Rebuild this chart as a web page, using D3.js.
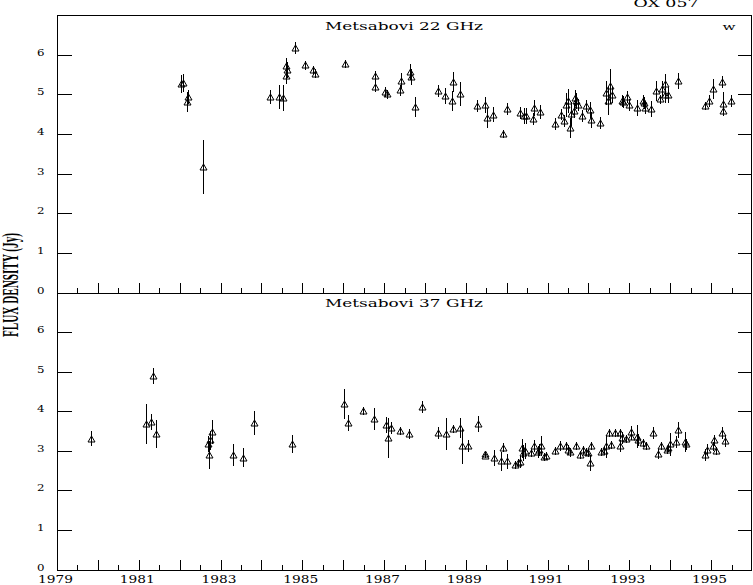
<!DOCTYPE html>
<html><head><meta charset="utf-8">
<script src="https://cdn.jsdelivr.net/npm/d3@7"></script>
<style>
html,body{margin:0;padding:0;background:#fff;}
svg{display:block;}
text{fill:#000;}
</style></head>
<body>
<svg id="chart" width="753" height="585"></svg>
<script>
// ---------- data ----------
const years22 = [1982.03,1982.08,1982.21,1982.18,1982.56,1984.20,1984.43,1984.53,1984.60,1984.62,1984.60,1984.81,1985.07,1985.25,1985.30,1986.05,1986.79,1986.77,1987.03,1987.08,1987.38,1987.42,1987.63,1987.67,1987.76,1988.33,1988.50,1988.69,1988.65,1988.86,1989.28,1989.48,1989.51,1989.66,1989.92,1990.00,1990.32,1990.42,1990.46,1990.66,1990.65,1990.82,1991.19,1991.32,1991.39,1991.44,1991.51,1991.56,1991.57,1991.64,1991.67,1991.70,1991.75,1991.83,1991.93,1992.04,1992.07,1992.29,1992.43,1992.47,1992.52,1992.58,1992.81,1992.84,1992.95,1992.99,1993.18,1993.33,1993.36,1993.39,1993.52,1993.66,1993.74,1993.80,1993.86,1993.86,1993.95,1994.19,1994.84,1994.96,1995.05,1995.26,1995.29,1995.30,1995.48];
const flux22  = [5.25,5.28,4.93,4.80,3.16,4.93,4.94,4.91,5.72,5.62,5.45,6.17,5.73,5.61,5.52,5.77,5.45,5.18,5.06,5.00,5.10,5.33,5.57,5.44,4.67,5.09,4.95,5.31,4.83,5.01,4.70,4.74,4.41,4.49,4.00,4.63,4.52,4.45,4.45,4.66,4.38,4.55,4.24,4.49,4.32,4.72,4.83,4.15,4.51,4.59,4.91,4.83,4.74,4.46,4.70,4.60,4.36,4.28,5.04,4.83,5.20,4.98,4.83,4.80,4.94,4.72,4.66,4.84,4.78,4.66,4.63,5.09,4.87,5.14,5.25,4.99,4.98,5.33,4.70,4.84,5.14,5.31,4.76,4.57,4.84];
const err22   = [0.23,0.22,0.18,0.25,0.68,0.18,0.30,0.32,0.20,0.20,0.20,0.16,0.12,0.10,0.12,0.10,0.15,0.12,0.12,0.12,0.14,0.20,0.20,0.20,0.25,0.15,0.20,0.25,0.25,0.30,0.15,0.20,0.25,0.20,0.10,0.15,0.15,0.20,0.20,0.20,0.15,0.18,0.15,0.15,0.15,0.30,0.30,0.25,0.30,0.20,0.20,0.20,0.15,0.15,0.15,0.20,0.20,0.15,0.30,0.35,0.45,0.20,0.15,0.15,0.15,0.15,0.20,0.15,0.15,0.15,0.20,0.25,0.12,0.20,0.25,0.20,0.20,0.20,0.10,0.15,0.25,0.15,0.30,0.10,0.15];

const years37 = [1979.82,1981.17,1981.31,1981.36,1981.42,1982.69,1982.71,1982.74,1982.79,1983.31,1983.56,1983.82,1984.76,1986.03,1986.11,1986.48,1986.76,1987.04,1987.09,1987.17,1987.39,1987.62,1987.94,1988.32,1988.52,1988.69,1988.85,1988.91,1989.06,1989.30,1989.48,1989.48,1989.69,1989.86,1989.92,1990.00,1990.20,1990.27,1990.33,1990.38,1990.41,1990.45,1990.59,1990.66,1990.77,1990.80,1990.85,1990.91,1990.96,1991.19,1991.31,1991.46,1991.51,1991.56,1991.70,1991.80,1991.86,1991.94,1992.00,1992.04,1992.07,1992.31,1992.37,1992.43,1992.49,1992.56,1992.66,1992.78,1992.78,1992.83,1992.93,1993.03,1993.03,1993.19,1993.22,1993.33,1993.41,1993.59,1993.70,1993.77,1993.91,1993.95,1994.00,1994.13,1994.19,1994.35,1994.39,1994.86,1994.89,1995.04,1995.08,1995.12,1995.26,1995.33];
const flux37  = [3.31,3.67,3.72,4.89,3.43,3.17,2.90,3.26,3.48,2.90,2.83,3.71,3.17,4.18,3.71,4.00,3.80,3.66,3.32,3.57,3.50,3.42,4.10,3.46,3.43,3.54,3.57,3.12,3.12,3.67,2.92,2.86,2.81,2.73,3.08,2.73,2.64,2.69,2.72,3.06,2.94,3.00,2.94,3.12,2.98,3.02,3.12,2.85,2.87,3.00,3.12,3.11,3.02,2.96,3.11,2.90,3.02,2.98,2.94,2.70,3.11,2.98,3.00,3.11,3.46,3.15,3.46,3.44,3.12,3.33,3.29,3.36,3.47,3.36,3.27,3.19,3.11,3.46,2.92,3.12,3.02,3.08,3.16,3.23,3.53,3.23,3.16,2.90,3.03,3.11,3.26,2.99,3.44,3.25];
const err37   = [0.20,0.50,0.20,0.20,0.35,0.20,0.35,0.25,0.30,0.28,0.25,0.30,0.22,0.38,0.20,0.10,0.27,0.20,0.50,0.15,0.10,0.12,0.15,0.15,0.40,0.10,0.25,0.45,0.15,0.20,0.05,0.05,0.20,0.25,0.12,0.20,0.10,0.10,0.15,0.25,0.20,0.20,0.10,0.15,0.15,0.15,0.25,0.10,0.10,0.10,0.12,0.10,0.12,0.12,0.10,0.10,0.10,0.10,0.10,0.20,0.10,0.10,0.10,0.30,0.10,0.10,0.10,0.12,0.15,0.15,0.10,0.10,0.15,0.30,0.15,0.10,0.10,0.15,0.12,0.10,0.10,0.10,0.30,0.15,0.20,0.25,0.15,0.15,0.15,0.12,0.15,0.10,0.15,0.15];

const yTickValues = [0,1,2,3,4,5,6];
const xLabelYears = [1979,1981,1983,1985,1987,1989,1991,1993,1995];
const panelTitles = ["Metsabovi 22 GHz","Metsabovi 37 GHz"];
const sourceName = "OX 057";
const cornerMark = "w";
const yAxisTitle = "FLUX DENSITY (Jy)";

// ---------- layout ----------
const svg = d3.select("#chart");
const L = 57, R = 752, T = 15, MID = 292.5, B = 569.5;
const x = d3.scaleLinear().domain([1979,1996]).range([L, R]);
const yTop = d3.scaleLinear().domain([0,7]).range([MID, T]);
const yBot = d3.scaleLinear().domain([0,7]).range([B, MID]);
const font = "'DejaVu Serif', serif";

// frame
const frame = svg.append("g").attr("fill","none").attr("stroke","#000").attr("stroke-width",1).attr("shape-rendering","crispEdges");
frame.append("rect").attr("x",L+0.5).attr("y",T+0.5).attr("width",R-L-1).attr("height",B-T);
frame.append("line").attr("x1",L).attr("x2",R).attr("y1",Math.round(MID)+0.5).attr("y2",Math.round(MID)+0.5);

// x ticks (every year major, every half year minor), pointing upward
const majorYears = d3.range(1980,1996,1);
const minorYears = d3.range(1979.5,1996,1);
[yTop, yBot].forEach((ys,i)=>{
  const base = i===0 ? Math.round(MID) : Math.round(B);
  const gMaj = svg.append("g").attr("transform",`translate(0,${base+0.5})`)
    .call(d3.axisBottom(x).tickValues(majorYears).tickSize(-11).tickFormat(""));
  const gMin = svg.append("g").attr("transform",`translate(0,${base+0.5})`)
    .call(d3.axisBottom(x).tickValues(minorYears).tickSize(-6).tickFormat(""));
  [gMaj,gMin].forEach(g=>{
    g.select(".domain").remove();
    g.selectAll("line").attr("stroke","#000").attr("shape-rendering","crispEdges");
  });
});

// x labels under bottom panel
const gxl = svg.append("g").attr("transform",`translate(-2,${B+0.5})`)
  .call(d3.axisBottom(x).tickValues(xLabelYears).tickSize(0).tickPadding(12.5).tickFormat(d3.format("d")));
gxl.select(".domain").remove();
gxl.selectAll("text").attr("font-family",font).attr("font-size",10.5)
  .attr("textLength",35).attr("lengthAdjust","spacingAndGlyphs").attr("dy",0);

// y axes left (labels) and right (ticks)
[yTop, yBot].forEach(ys=>{
  const gl = svg.append("g").attr("transform",`translate(${L+0.5},0)`)
    .call(d3.axisLeft(ys).tickValues(yTickValues).tickSize(-14).tickPadding(13).tickFormat(d3.format("d")));
  gl.select(".domain").remove();
  gl.selectAll("line").attr("stroke","#000").attr("shape-rendering","crispEdges");
  gl.selectAll("text").attr("font-family",font).attr("font-size",10)
    .attr("textLength",7.5).attr("lengthAdjust","spacingAndGlyphs").attr("dy","0.05em");
  const gr = svg.append("g").attr("transform",`translate(${R-0.5},0)`)
    .call(d3.axisRight(ys).tickValues(yTickValues.filter(v=>v>0)).tickSize(-14).tickFormat(""));
  gr.select(".domain").remove();
  gr.selectAll("line").attr("stroke","#000").attr("shape-rendering","crispEdges");
});

// data marks
function drawSeries(years, flux, err, ys){
  const data = years.map((yr,i)=>({yr, v:flux[i], e:err[i]}));
  const g = svg.append("g").attr("stroke","#000").attr("stroke-width",1).attr("fill","none");
  g.selectAll("line.err").data(data).join("line").attr("class","err")
    .attr("x1",d=>Math.round(x(d.yr))+0.5).attr("x2",d=>Math.round(x(d.yr))+0.5)
    .attr("y1",d=>ys(d.v+d.e)).attr("y2",d=>ys(d.v-d.e))
    .attr("shape-rendering","crispEdges");
  g.selectAll("path.sym").data(data).join("path").attr("class","sym")
    .attr("transform",d=>`translate(${Math.round(x(d.yr))+0.5},${Math.round(ys(d.v))+0.5})`)
    .attr("d","M0,-3.5L3.5,2.5L-3.5,2.5Z");
}
drawSeries(years22, flux22, err22, yTop);
drawSeries(years37, flux37, err37, yBot);

// texts
svg.append("text").attr("x",404).attr("y",30).attr("text-anchor","middle")
  .attr("font-family",font).attr("font-size",11.5).attr("textLength",158).attr("lengthAdjust","spacingAndGlyphs")
  .text(panelTitles[0]);
svg.append("text").attr("x",404).attr("y",307).attr("text-anchor","middle")
  .attr("font-family",font).attr("font-size",11.5).attr("textLength",158).attr("lengthAdjust","spacingAndGlyphs")
  .text(panelTitles[1]);
svg.append("text").attr("x",729).attr("y",30).attr("text-anchor","middle")
  .attr("font-family",font).attr("font-size",10).attr("textLength",13).attr("lengthAdjust","spacingAndGlyphs")
  .text(cornerMark);
svg.append("text").attr("x",666).attr("y",7).attr("text-anchor","middle")
  .attr("font-family",font).attr("font-size",11.5).attr("textLength",65).attr("lengthAdjust","spacingAndGlyphs")
  .text(sourceName);
svg.append("text").attr("transform","translate(18,285) rotate(-90)").attr("text-anchor","middle")
  .attr("font-family","'Liberation Serif', serif").attr("font-weight","bold").attr("font-size",23)
  .attr("textLength",104).attr("lengthAdjust","spacingAndGlyphs")
  .text(yAxisTitle);
</script>
</body></html>
